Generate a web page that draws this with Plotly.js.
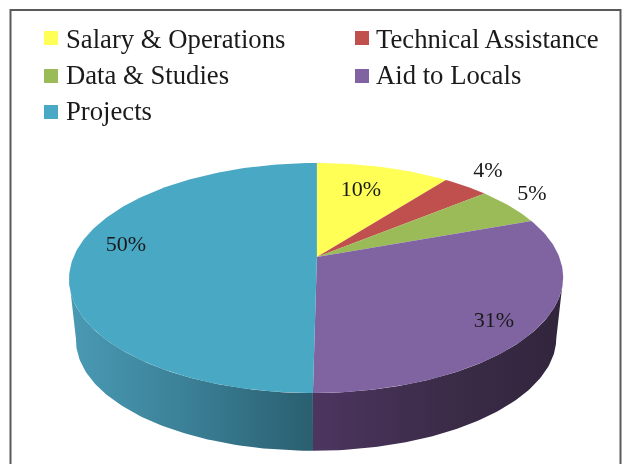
<!DOCTYPE html>
<html><head><meta charset="utf-8">
<script src="https://cdn.plot.ly/plotly-3.0.1.min.js"></script>
<style>html,body{margin:0;padding:0;background:#fff;overflow:hidden}#plot{width:627px;height:464px;filter:blur(.6px)}</style>
</head><body><div id="plot"></div>
<script>
const categories = ["Salary & Operations","Technical Assistance","Data & Studies","Aid to Locals","Projects"];
const values = [10.4,3.6,5.4,30.6,50];
const topColors = ["#ffff55","#c0504d","#9bbb59","#8064a2","#49a8c4"];
const wallStops = {3:[[0,"#4d3560"],[0.5,"#3c2c49"],[1,"#31253c"]],4:[[0,"#4a9ab5"],[0.5,"#3a7f95"],[1,"#2a5f70"]]};
const legendX = [51,362,51,362,51];
const legendY = [38,38,76,76,112];
const legendTextX = [66,376,66,376,66];
const legendTextY = [41.5,41.5,77.5,77.5,113.5];
const labelText = ["10%","4%","5%","31%","50%"];
const labelX = [361,488,532,494,126];
const labelY = [190,171,194,321,245];

const k=0.1826,a=111.2,b=242.9,cx=316.9,cy=257,elY=278,depth=61,shrink=0.972;
function topPt(deg){const t=deg*Math.PI/180,u=Math.sin(t),v=Math.cos(t),d=1+k*v,s=(1-v)/2;
  return [cx+b*u/d-4*s*s*s, cy-a*v/d];}
function botPt(deg){const p=topPt(deg);return [cx+(p[0]-cx)*shrink, elY+depth+(p[1]-elY)*shrink];}
function arc(f,from,to){const n=Math.max(2,Math.ceil(Math.abs(to-from)));const r=[];for(let i=0;i<=n;i++)r.push(f(from+(to-from)*i/n));return r;}
const tangent=Math.acos(-k)*180/Math.PI;
const traces=[];
let cum=0;const spans=values.map(v=>{const s=[cum*3.6,(cum+v)*3.6];cum+=v;return s;});
// side walls
[3,4].forEach(i=>{
  const from=Math.max(spans[i][0],tangent), to=Math.min(spans[i][1],360-tangent);
  const pts=arc(topPt,from,to).concat(arc(botPt,to,from));
  pts.push(pts[0]);
  traces.push({type:"scatter",mode:"lines",x:pts.map(p=>p[0]),y:pts.map(p=>p[1]),fill:"toself",
    line:{width:0,color:topColors[i]},fillgradient:{type:"horizontal",colorscale:wallStops[i]},
    hoverinfo:"skip",showlegend:false});
});
// top faces
values.forEach((v,i)=>{
  const pts=[[cx,cy]].concat(arc(topPt,spans[i][0],spans[i][1]));pts.push([cx,cy]);
  traces.push({type:"scatter",mode:"lines",name:categories[i],x:pts.map(p=>p[0]),y:pts.map(p=>p[1]),
    fill:"toself",fillcolor:topColors[i],line:{width:0,color:topColors[i]},hoverinfo:"name",showlegend:false});
});
// legend swatches and names
categories.forEach((c,i)=>{
  traces.push({type:"scatter",mode:"markers",x:[legendX[i]],y:[legendY[i]],
    marker:{symbol:"square",size:14,color:topColors[i]},hoverinfo:"skip",showlegend:false});
});
traces.push({type:"scatter",mode:"text",x:legendTextX,y:legendTextY,text:categories,textposition:"middle right",
  textfont:{family:"Liberation Serif",size:26.7,color:"#1a1a1a"},hoverinfo:"skip",showlegend:false});
// labels
traces.push({type:"scatter",mode:"text",x:labelX,y:labelY,text:labelText,textposition:"middle center",
  textfont:{family:"Liberation Serif",size:22,color:"#1a1a1a"},hoverinfo:"skip",showlegend:false});

Plotly.newPlot("plot",traces,{
  width:627,height:464,margin:{l:0,r:0,t:0,b:0},paper_bgcolor:"#fff",plot_bgcolor:"#fff",showlegend:false,
  xaxis:{range:[0,627],visible:false,fixedrange:true},
  yaxis:{range:[464,0],visible:false,fixedrange:true},
  shapes:[{type:"rect",xref:"x",yref:"y",x0:10.5,x1:620.5,y0:10,y1:480,line:{color:"#5a5a5a",width:2},layer:"below"}]
},{displayModeBar:false,responsive:false});
</script></body></html>
